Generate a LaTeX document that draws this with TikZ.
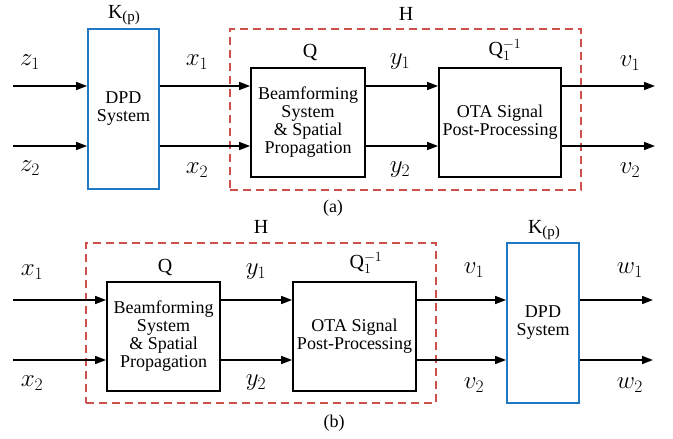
\RequirePackage{fix-cm}
\documentclass[tikz,border=0pt]{standalone}
\usepackage[no-math]{fontspec}
\setmainfont{Liberation Serif}
\usetikzlibrary{arrows.meta}
\definecolor{hred}{RGB}{205,80,74}
\definecolor{kblue}{RGB}{30,120,195}
\newcommand{\Kp}{K\raisebox{-0.35ex}{\fontsize{15}{15}\selectfont (p)}}
\tikzset{
  blk/.style={draw=black, line width=1.8pt, inner sep=0pt, align=center, font=\fontsize{18}{18}\selectfont},
  dpdbox/.style={draw=kblue, line width=1.8pt, inner sep=0pt, align=center, font=\fontsize{18}{18}\selectfont},
  hbox/.style={draw=hred, line width=1.6pt, dash pattern=on 8pt off 5pt, inner sep=0pt},
  arr/.style={-{Triangle[length=11pt,width=8pt]}, line width=1.6pt},
  mlab/.style={font=\fontsize{25}{25}\selectfont, inner sep=0pt},
  ulab/.style={font=\fontsize{20}{20}\selectfont, inner sep=0pt},
  caplab/.style={font=\fontsize{18}{18}\selectfont, inner sep=0pt}
}
\begin{document}
\begin{tikzpicture}[x=1pt,y=-1pt]
\useasboundingbox (0,0) rectangle (673,439);
% ---------- (a) ----------
\node[hbox, minimum width=351pt, minimum height=161pt] (hA) at (405.5,109.5) {};
\node[dpdbox, minimum width=71pt, minimum height=160pt] (dpdA) at (123.5,109) {DPD\\System};
\node[blk, minimum width=114pt, minimum height=109pt] (qA) at (308,122.5) {Beamforming\\System\\\& Spatial\\Propagation};
\node[blk, minimum width=122pt, minimum height=109pt] (otaA) at (500,122.5) {OTA Signal\\Post-Processing};
\coordinate (zA1) at (13,86);
\coordinate (zA2) at (13,146);
\coordinate (vA1) at (655,86);
\coordinate (vA2) at (655,146);
\draw[arr] (zA1) -- (zA1 -| dpdA.west);
\draw[arr] (zA2) -- (zA2 -| dpdA.west);
\draw[arr] (zA1 -| dpdA.east) -- (zA1 -| qA.west);
\draw[arr] (zA2 -| dpdA.east) -- (zA2 -| qA.west);
\draw[arr] (zA1 -| qA.east) -- (zA1 -| otaA.west);
\draw[arr] (zA2 -| qA.east) -- (zA2 -| otaA.west);
\draw[arr] (zA1 -| otaA.east) -- (vA1);
\draw[arr] (zA2 -| otaA.east) -- (vA2);
\node[ulab] (kA) at (124,15) {\Kp};
\node[ulab] (hlA) at (406,14) {H};
\node[ulab] (qlA) at (310,52) {Q};
\node[ulab] (qiA) at (505,50) {Q$_1^{-1}$};
\node[mlab] (lz1) at (30,62) {$z_1$};
\node[mlab] (lz2) at (30,168) {$z_2$};
\node[mlab] (lx1) at (197,62) {$x_1$};
\node[mlab] (lx2) at (197,170) {$x_2$};
\node[mlab] (ly1) at (400,62) {$y_1$};
\node[mlab] (ly2) at (400,170) {$y_2$};
\node[mlab] (lv1) at (630,63) {$v_1$};
\node[mlab] (lv2) at (630,170) {$v_2$};
\node[caplab] (capa) at (333,208) {(a)};
% ---------- (b) ----------
\node[hbox, minimum width=350pt, minimum height=160pt] (hB) at (261,323) {};
\node[blk, minimum width=113pt, minimum height=109pt] (qB) at (163.5,336.5) {Beamforming\\System\\\& Spatial\\Propagation};
\node[blk, minimum width=123pt, minimum height=109pt] (otaB) at (354.5,336.5) {OTA Signal\\Post-Processing};
\node[dpdbox, minimum width=72pt, minimum height=160pt] (dpdB) at (543,323) {DPD\\System};
\coordinate (xB1) at (13,300);
\coordinate (xB2) at (13,360);
\coordinate (wB1) at (653,300);
\coordinate (wB2) at (653,360);
\draw[arr] (xB1) -- (xB1 -| qB.west);
\draw[arr] (xB2) -- (xB2 -| qB.west);
\draw[arr] (xB1 -| qB.east) -- (xB1 -| otaB.west);
\draw[arr] (xB2 -| qB.east) -- (xB2 -| otaB.west);
\draw[arr] (xB1 -| otaB.east) -- (xB1 -| dpdB.west);
\draw[arr] (xB2 -| otaB.east) -- (xB2 -| dpdB.west);
\draw[arr] (xB1 -| dpdB.east) -- (wB1);
\draw[arr] (xB2 -| dpdB.east) -- (wB2);
\node[ulab] (hlB) at (261,227) {H};
\node[ulab] (qlB) at (165,267) {Q};
\node[ulab] (qiB) at (366,263) {Q$_1^{-1}$};
\node[ulab] (kB) at (544,230) {\Kp};
\node[mlab] (bx1) at (32,272) {$x_1$};
\node[mlab] (bx2) at (32,383) {$x_2$};
\node[mlab] (by1) at (256,272) {$y_1$};
\node[mlab] (by2) at (256,383) {$y_2$};
\node[mlab] (bv1) at (474,270) {$v_1$};
\node[mlab] (bv2) at (474,385) {$v_2$};
\node[mlab] (bw1) at (630,270) {$w_1$};
\node[mlab] (bw2) at (630,385) {$w_2$};
\node[caplab] (capb) at (334,423) {(b)};
\end{tikzpicture}
\end{document}
